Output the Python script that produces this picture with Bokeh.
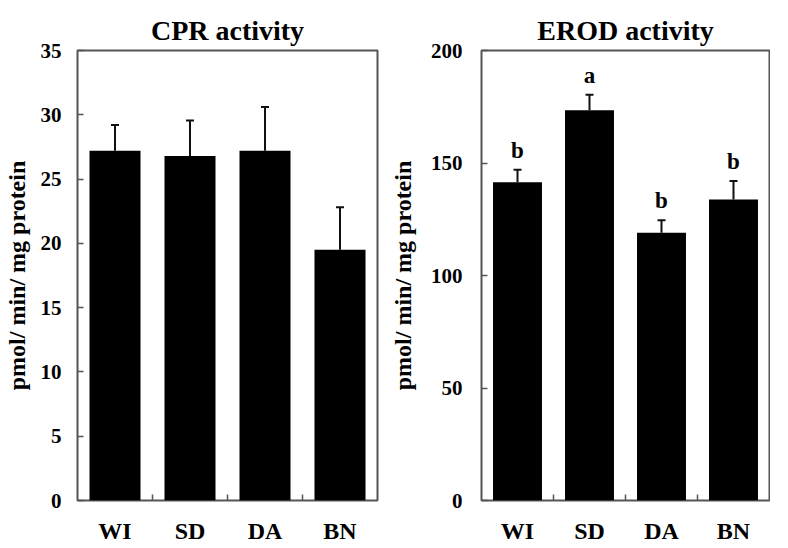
from bokeh.plotting import figure
from bokeh.models import (ColumnDataSource, Range1d, FixedTicker, Whisker, TeeHead, LabelSet)
from bokeh.layouts import row
from bokeh.embed import file_html
from bokeh.resources import INLINE

categories = ["WI", "SD", "DA", "BN"]

cpr_mean = [27.2, 26.8, 27.2, 19.5]
cpr_err = [2.0, 2.75, 3.4, 3.3]
cpr_ticks = [0, 5, 10, 15, 20, 25, 30, 35]

erod_mean = [141.4, 173.5, 119.0, 133.8]
erod_err = [5.6, 6.8, 5.6, 8.2]
erod_letters = ["b", "a", "b", "b"]
erod_ticks = [0, 50, 100, 150, 200]

FONT = "Liberation Serif"
FRAME = "#555555"
H = 546


def make_plot(title, means, errs, yticks, ylabel, width, bl, br, tstand, lstand, letters=None):
    n = len(categories)
    xs = [i + 0.5 for i in range(n)]
    src = ColumnDataSource(dict(
        x=xs, top=means,
        upper=[m + e for m, e in zip(means, errs)],
        lower=means,
        cat=categories,
        letter=letters if letters else [""] * n,
    ))
    p = figure(width=width, height=H, output_backend="svg", toolbar_location=None,
               x_range=Range1d(0, n), y_range=Range1d(yticks[0], yticks[-1]),
               min_border_left=bl, min_border_right=br, min_border_top=50, min_border_bottom=44,
               title=title)
    p.title.align = "center"
    p.title.vertical_align = "top"
    p.title.text_font = FONT
    p.title.text_font_size = "28px"
    p.title.text_font_style = "bold"
    p.title.text_color = "black"
    p.title.standoff = 6

    p.vbar(x="x", top="top", width=0.68, bottom=0, source=src,
           fill_color="black", line_color=None)

    wh = Whisker(source=src, base="x", upper="upper", lower="lower",
                 line_color="#111111", line_width=2, lower_head=None,
                 upper_head=TeeHead(size=8, line_color="#111111", line_width=2))
    p.add_layout(wh)

    if letters:
        ls = LabelSet(x="x", y="upper", text="letter", source=src, text_align="center",
                      text_baseline="alphabetic", y_offset=12, text_font=FONT,
                      text_font_size="23px", text_font_style="bold", text_color="black")
        p.add_layout(ls)

    p.grid.visible = False
    p.outline_line_color = FRAME
    p.outline_line_width = 2
    p.background_fill_color = "white"
    p.border_fill_color = "white"

    # x axis
    xa = p.xaxis[0]
    xa.ticker = FixedTicker(ticks=xs, minor_ticks=list(range(1, n)))
    xa.major_label_overrides = {x: c for x, c in zip(xs, categories)}
    xa.major_tick_in = 0
    xa.major_tick_out = 0
    xa.minor_tick_in = 6
    xa.minor_tick_out = 0
    xa.minor_tick_line_color = FRAME
    xa.minor_tick_line_width = 1.5
    xa.axis_line_color = None
    xa.major_label_standoff = 17
    xa.major_label_text_font = FONT
    xa.major_label_text_font_size = "24px"
    xa.major_label_text_font_style = "bold"
    xa.major_label_text_color = "black"

    # y axis
    ya = p.yaxis[0]
    ya.ticker = FixedTicker(ticks=yticks)
    ya.major_tick_in = 6
    ya.major_tick_out = 0
    ya.major_tick_line_color = FRAME
    ya.major_tick_line_width = 1.5
    ya.minor_tick_line_color = None
    ya.axis_line_color = None
    ya.major_label_standoff = tstand
    ya.major_label_text_font = FONT
    ya.major_label_text_font_size = "21px"
    ya.major_label_text_font_style = "bold"
    ya.major_label_text_color = "black"
    ya.axis_label = ylabel
    ya.axis_label_text_font = FONT
    ya.axis_label_text_font_size = "24px"
    ya.axis_label_text_font_style = "bold"
    ya.axis_label_text_color = "black"
    ya.axis_label_standoff = lstand
    return p


ylab = "pmol/ min/ mg protein"
p1 = make_plot("CPR activity", cpr_mean, cpr_err, cpr_ticks, ylab, 386, 73, 9, 16, 8)
p2 = make_plot("EROD activity", erod_mean, erod_err, erod_ticks, ylab, 384, 92, 1, 19, 12,
               erod_letters)

layout = row(p1, p2)
open("out.html", "w").write(file_html(layout, INLINE))
